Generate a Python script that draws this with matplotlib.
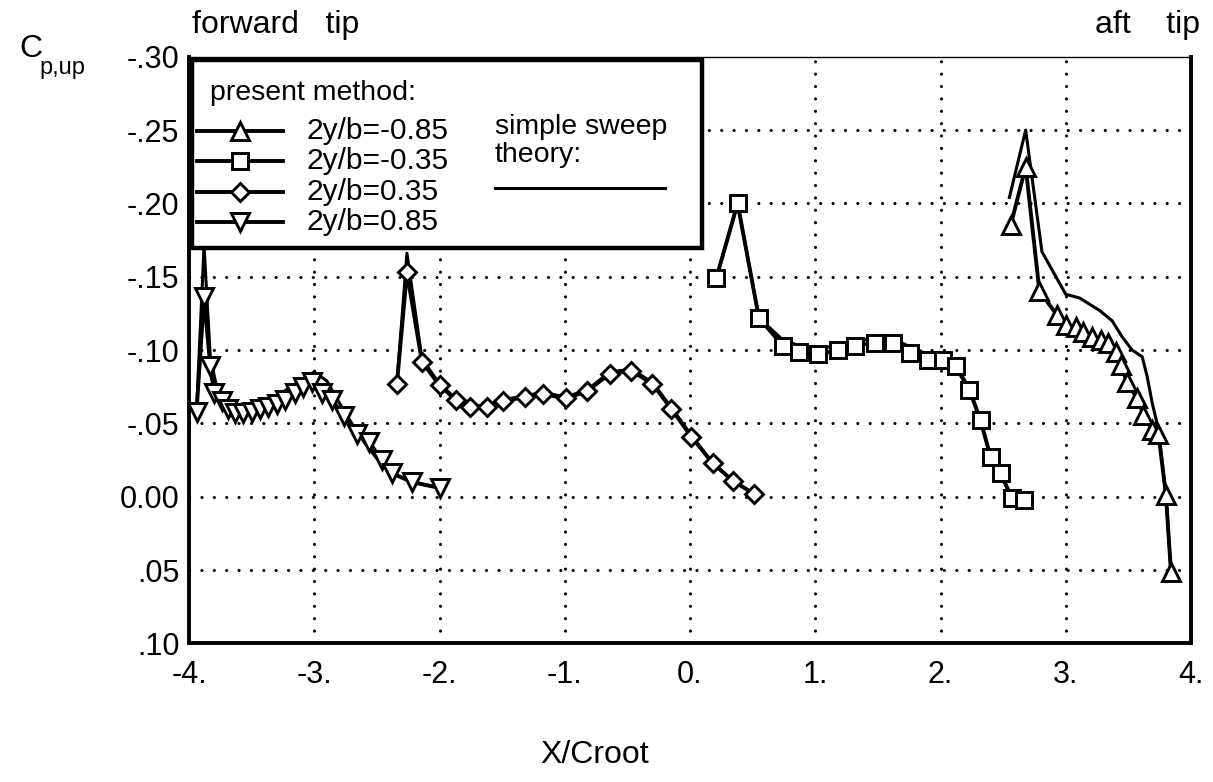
import matplotlib
matplotlib.use("Agg")
import matplotlib.pyplot as plt
from matplotlib.lines import Line2D
from matplotlib.patches import Rectangle

plt.rcParams['font.family'] = ['Liberation Sans', 'DejaVu Sans']

# ---- data ----
# 2y/b = 0.85 (forward tip)
x_085 = [-3.94, -3.88, -3.83, -3.80, -3.74, -3.69, -3.63, -3.57, -3.50, -3.43, -3.37, -3.30,
         -3.23, -3.15, -3.09, -3.02, -2.94, -2.86, -2.76, -2.66, -2.56, -2.46, -2.38, -2.22, -2.00]
cp_085 = [-0.058, -0.136, -0.089, -0.071, -0.065, -0.060, -0.057, -0.057, -0.058, -0.060, -0.061, -0.063,
          -0.066, -0.071, -0.075, -0.078, -0.071, -0.066, -0.055, -0.043, -0.037, -0.025, -0.016, -0.010, -0.006]
# 2y/b = 0.35
x_035 = [-2.34, -2.26, -2.14, -2.00, -1.87, -1.76, -1.62, -1.49, -1.32, -1.17, -0.99, -0.82,
         -0.64, -0.47, -0.30, -0.15, 0.01, 0.18, 0.34, 0.51]
cp_035 = [-0.077, -0.153, -0.092, -0.076, -0.066, -0.061, -0.061, -0.065, -0.068, -0.070, -0.067, -0.072,
          -0.084, -0.086, -0.077, -0.060, -0.041, -0.023, -0.011, -0.002]
# 2y/b = -0.35
x_m035 = [0.21, 0.38, 0.55, 0.74, 0.87, 1.02, 1.18, 1.32, 1.48, 1.62, 1.76, 1.90, 2.02, 2.12,
          2.23, 2.32, 2.40, 2.48, 2.57, 2.67]
cp_m035 = [-0.149, -0.200, -0.122, -0.103, -0.099, -0.097, -0.100, -0.103, -0.105, -0.105, -0.098, -0.093,
           -0.093, -0.089, -0.073, -0.052, -0.027, -0.016, 0.001, 0.002]
# 2y/b = -0.85 (aft tip)
x_m085 = [2.56, 2.68, 2.79, 2.93, 3.00, 3.08, 3.14, 3.21, 3.28, 3.34, 3.40, 3.44, 3.49, 3.57,
          3.62, 3.69, 3.74, 3.80, 3.84]
cp_m085 = [-0.185, -0.225, -0.140, -0.124, -0.117, -0.116, -0.1125, -0.109, -0.107, -0.1046, -0.099,
           -0.090, -0.078, -0.067, -0.056, -0.0455, -0.043, -0.001, 0.051]

# simple sweep theory
sw_x1 = [-3.94, -3.88, -3.83, -3.78, -3.70, -3.60, -3.50, -3.40, -3.30, -3.20, -3.10, -3.00,
         -2.90, -2.80, -2.70, -2.60, -2.50, -2.40, -2.22, -2.00]
sw_cp1 = [-0.058, -0.171, -0.095, -0.075, -0.066, -0.060, -0.062, -0.065, -0.069, -0.074, -0.080, -0.085,
          -0.079, -0.064, -0.050, -0.037, -0.026, -0.017, -0.010, -0.006]
sw_x2 = x_035
sw_cp2 = [-0.077, -0.166, -0.094, -0.077, -0.067, -0.062, -0.062, -0.066, -0.069, -0.071, -0.068, -0.073,
          -0.085, -0.087, -0.078, -0.061, -0.042, -0.023, -0.011, -0.002]
sw_x3 = x_m035
sw_cp3 = [-0.149, -0.200, -0.122, -0.107, -0.103, -0.101, -0.103, -0.106, -0.108, -0.108, -0.102, -0.097,
          -0.095, -0.090, -0.074, -0.052, -0.027, -0.016, 0.001, 0.002]
sw_x4 = [2.55, 2.68, 2.81, 3.00, 3.11, 3.27, 3.37, 3.45, 3.53, 3.61, 3.65, 3.69, 3.74, 3.80, 3.84]
sw_cp4 = [-0.204, -0.250, -0.167, -0.138, -0.1355, -0.127, -0.120, -0.109, -0.100, -0.0955, -0.082,
          -0.064, -0.046, -0.001, 0.051]

x_ticks = [-4, -3, -2, -1, 0, 1, 2, 3, 4]
x_tick_labels = ['-4.', '-3.', '-2.', '-1.', '0.', '1.', '2.', '3.', '4.']
y_ticks = [-0.30, -0.25, -0.20, -0.15, -0.10, -0.05, 0.00, 0.05, 0.10]
y_tick_labels = ['-.30', '-.25', '-.20', '-.15', '-.10', '-.05', '0.00', '.05', '.10']
legend_labels = ['2y/b=-0.85', '2y/b=-0.35', '2y/b=0.35', '2y/b=0.85']

# ---- figure ----
W, H = 1213, 782
fig = plt.figure(figsize=(W / 100, H / 100), dpi=100)
ax = fig.add_axes([189 / W, 1 - 643.4 / H, (1191 - 189) / W, (643.4 - 56.7) / H])
ax.set_xlim(-4, 4)
ax.set_ylim(0.10, -0.30)

grid_kw = dict(color='black', linewidth=2.2, linestyle=(0, (0.05, 4.0)),
               dash_capstyle='round', zorder=1)
for xv in x_ticks[1:-1]:
    ax.axvline(xv, **grid_kw)
for yv in y_ticks[1:-1]:
    ax.axhline(yv, **grid_kw)

ax.set_xticks(x_ticks)
ax.set_xticklabels(x_tick_labels, fontsize=22)
ax.set_yticks(y_ticks)
ax.set_yticklabels(y_tick_labels, fontsize=22)
ax.tick_params(length=0)
ax.tick_params(axis='x', pad=12)
ax.tick_params(axis='y', pad=7)

for s in ['left', 'bottom', 'right']:
    ax.spines[s].set_linewidth(2.8)
ax.spines['top'].set_linewidth(1.0)

lw_data = 2.8
mew = 2.1
styles = [
    ('^', 13, x_m085, cp_m085),
    ('s', 11, x_m035, cp_m035),
    ('D', 9.5, x_035, cp_035),
    ('v', 13, x_085, cp_085),
]
for xs, cs in [(sw_x1, sw_cp1), (sw_x2, sw_cp2), (sw_x3, sw_cp3), (sw_x4, sw_cp4)]:
    ax.plot(xs, cs, color='black', linewidth=2.2, zorder=3)
for mk, ms, xs, cs in styles:
    ax.plot(xs, cs, color='black', linewidth=lw_data, marker=mk, markersize=ms,
            markerfacecolor='white', markeredgecolor='black', markeredgewidth=mew, zorder=4)

# ---- legend box ----
def fx(px):
    return (px - 189) / (1191 - 189)

def fy(py):
    return (643.4 - py) / (643.4 - 56.7)

ax.add_patch(Rectangle((fx(192), fy(248)), fx(702) - fx(192), fy(60) - fy(248),
                       transform=ax.transAxes, facecolor='white', edgecolor='black',
                       linewidth=3.2, zorder=10, clip_on=False))
ax.text(fx(210), fy(93), 'present method:', transform=ax.transAxes, fontsize=20.5,
        ha='left', va='center', zorder=11)
row_y = [131, 161, 192, 222]
for (mk, ms, _, _), lab, ry in zip(styles, legend_labels, row_y):
    ax.add_line(Line2D([fx(197), fx(283)], [fy(ry), fy(ry)], transform=ax.transAxes,
                       color='black', linewidth=lw_data, zorder=11))
    ax.add_line(Line2D([fx(240)], [fy(ry)], transform=ax.transAxes, marker=mk, markersize=ms,
                       markerfacecolor='white', markeredgecolor='black', markeredgewidth=mew,
                       color='black', zorder=12))
    ax.text(fx(307), fy(ry), lab, transform=ax.transAxes, fontsize=21.5, ha='left', va='center',
            zorder=11)
ax.text(fx(495), fy(127), 'simple sweep', transform=ax.transAxes, fontsize=20.5,
        ha='left', va='center', zorder=11)
ax.text(fx(495), fy(155), 'theory:', transform=ax.transAxes, fontsize=20.5,
        ha='left', va='center', zorder=11)
ax.add_line(Line2D([fx(495), fx(665)], [fy(188), fy(188)], transform=ax.transAxes,
                   color='black', linewidth=2.2, zorder=11))

# ---- labels ----
fig.text(192 / W, 1 - 25 / H, 'forward   tip', fontsize=23, ha='left', va='center')
fig.text(1200 / W, 1 - 25 / H, 'aft    tip', fontsize=23, ha='right', va='center')
fig.text(19 / W, 1 - 49 / H, 'C', fontsize=23, ha='left', va='center')
fig.text(39 / W, 1 - 68 / H, 'p,up', fontsize=17, ha='left', va='center')
fig.text(595 / W, 1 - 755 / H, 'X/Croot', fontsize=23, ha='center', va='center')

fig.savefig('out.png', dpi=100)
